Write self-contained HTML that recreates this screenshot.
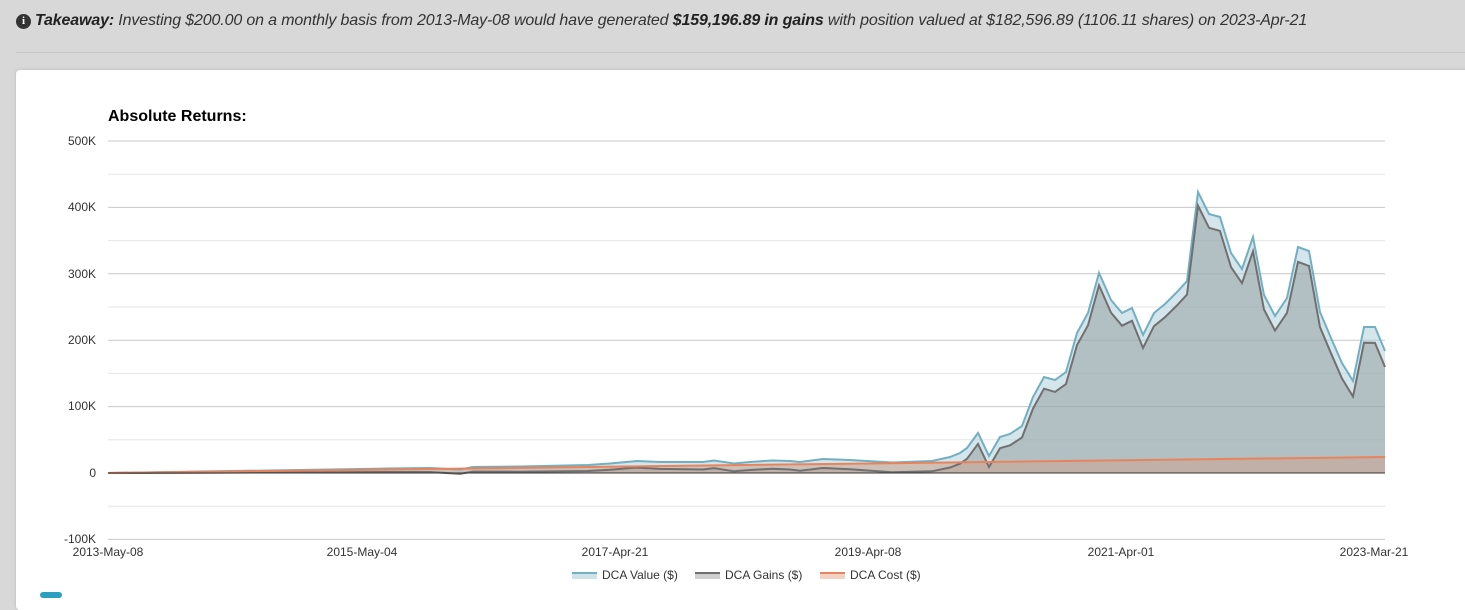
<!DOCTYPE html>
<html><head><meta charset="utf-8"><style>
body{margin:0;width:1465px;height:595px;background:#d8d8d8;overflow:hidden;font-family:"Liberation Sans",sans-serif;position:relative}
.take{position:absolute;left:16px;top:12px;font-size:16px;font-style:italic;color:#333;white-space:nowrap;letter-spacing:-0.15px}
.take b{color:#222}
.ico{display:inline-block;width:15px;height:15px;border-radius:50%;background:#333;color:#fff;font-size:11px;font-style:normal;font-weight:bold;text-align:center;line-height:15px;vertical-align:1px;margin-right:4px;font-family:"Liberation Serif",serif}
.hr{position:absolute;left:16px;right:0;top:52px;height:1px;background:#c4c4c4}
.card{position:absolute;left:16px;top:70px;width:1460px;height:540px;background:#fff;border-radius:4px;box-shadow:0 0 3px rgba(0,0,0,.15)}
svg{position:absolute;left:0;top:0}
</style></head><body>
<div class="take"><span class="ico">i</span><b>Takeaway:</b> Investing $200.00 on a monthly basis from 2013-May-08 would have generated <b>$159,196.89 in gains</b> with position valued at $182,596.89 (1106.11 shares) on 2023-Apr-21</div>
<div class="hr"></div>
<div class="card"></div>
<div style="position:absolute;left:40px;top:592px;width:22px;height:6px;background:#2a9fc0;border-radius:3px"></div>
<svg width="1465" height="595" font-family="Liberation Sans, sans-serif">
<text x="108" y="121" font-size="16" font-weight="bold" fill="#000">Absolute Returns:</text>
<g id="grid"></g>
<g font-size="12" fill="#333" text-anchor="end">
<text x="96" y="145">500K</text><text x="96" y="211">400K</text><text x="96" y="278">300K</text>
<text x="96" y="344">200K</text><text x="96" y="410">100K</text><text x="96" y="477">0</text><text x="96" y="543">-100K</text>
</g>
<g font-size="12" fill="#333" text-anchor="middle">
<text x="108" y="556">2013-May-08</text><text x="362" y="556">2015-May-04</text><text x="615" y="556">2017-Apr-21</text>
<text x="868" y="556">2019-Apr-08</text><text x="1121" y="556">2021-Apr-01</text><text x="1374" y="556">2023-Mar-21</text>
</g>
<path id="vA" fill="#a9cdd9" fill-opacity="0.5" stroke="none"/>
<path id="gA" fill="#8f9a9a" fill-opacity="0.5" stroke="none"/>
<path id="cA" fill="#c9a595" fill-opacity="0.6" stroke="none"/>
<path id="vL" fill="none" stroke="#72afc3" stroke-width="2"/>
<path id="gL" fill="none" stroke="#707070" stroke-width="2"/>
<path id="cL" fill="none" stroke="#e8845d" stroke-width="2"/>
<line x1="108" x2="1385" y1="473" y2="473" stroke="#333" stroke-width="1"/>
<g font-size="12" fill="#333">
<rect x="572" y="573" width="25" height="6" fill="#cfe2e9"/><rect x="572" y="572" width="25" height="2" fill="#72afc3"/>
<text x="602" y="579">DCA Value ($)</text>
<rect x="695" y="573" width="25" height="6" fill="#cfcfcf"/><rect x="695" y="572" width="25" height="2" fill="#707070"/>
<text x="725" y="579">DCA Gains ($)</text>
<rect x="820" y="573" width="25" height="6" fill="#f3d2c4"/><rect x="820" y="572" width="25" height="2" fill="#e8845d"/>
<text x="850" y="579">DCA Cost ($)</text>
</g>
</svg>
<script>
var g='';
for(var i=0;i<=12;i++){var y=141+i*33.2;var major=i%2==0;
g+='<line x1="108" x2="1385" y1="'+y+'" y2="'+y+'" stroke="'+(major?'#c8c8c8':'#e6e6e6')+'" stroke-width="1"/>';}
document.getElementById('grid').innerHTML=g;
var V=[[108,473],[200,471.5],[300,470],[387,468.5],[430,468],[460,469.5],[473,467],[520,466.5],[588,465],[610,463.5],[637,461],[660,462],[703,462],[714,460.5],[734,463.5],[750,462],[772,460.5],[790,461],[800,462],[823,459],[850,460],[892,462.5],[932,461],[950,457],[960,453],[967,448],[978,433],[989,456],[1000,437],[1010,434],[1022,426],[1033,397],[1044,377],[1055,380],[1066,372],[1077,333],[1088,313],[1099,273],[1111,300],[1122,313],[1132,308],[1143,335],[1154,313],[1165,304],[1177,292],[1187,281],[1198,192],[1209,214],[1220,217],[1231,253],[1242,269],[1253,237],[1264,295],[1275,316],[1287,298],[1298,247],[1309,251],[1320,312],[1331,338],[1342,363],[1353,381],[1364,327],[1375,327],[1385,351]];
function cost(x){return 473-16*(x-108)/1277;}
function line(p){return 'M'+p.map(function(a){return a[0].toFixed(1)+','+a[1].toFixed(1)}).join('L');}
function area(p){return line(p)+'L1385,473L108,473Z';}
var G=V.map(function(a){return [a[0],a[1]+(473-cost(a[0]))];});
var C=[[108,473],[1385,457]];
document.getElementById('vA').setAttribute('d',area(V));
document.getElementById('gA').setAttribute('d',area(G));
document.getElementById('cA').setAttribute('d',area(C));
document.getElementById('vL').setAttribute('d',line(V));
document.getElementById('gL').setAttribute('d',line(G));
document.getElementById('cL').setAttribute('d',line(C));
</script>
</body></html>
